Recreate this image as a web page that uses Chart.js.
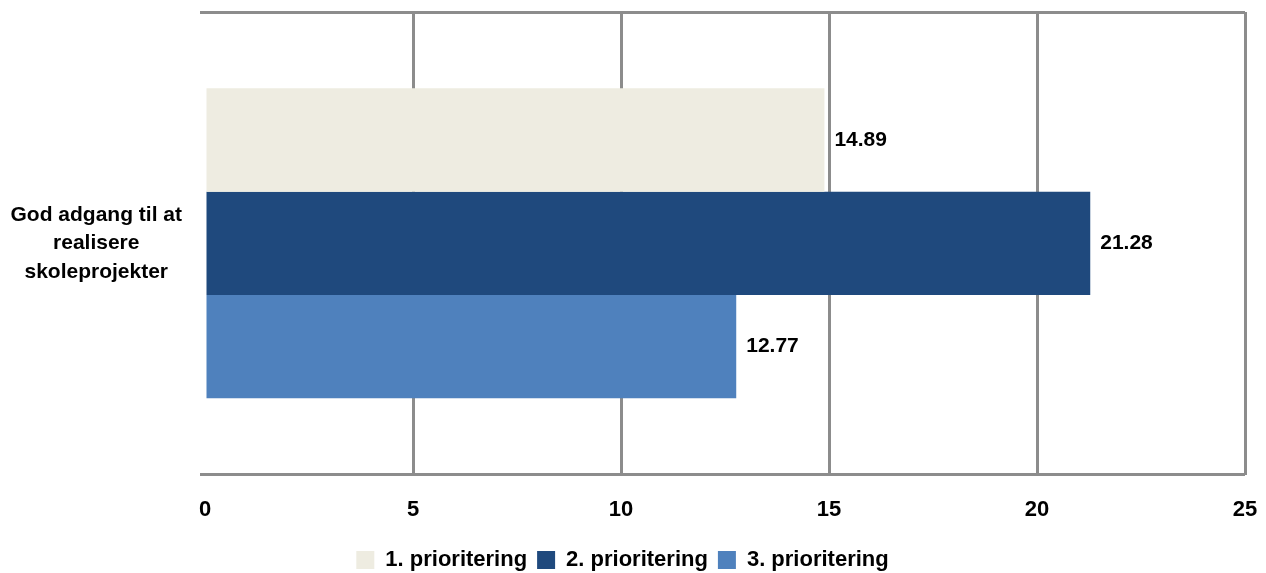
<!DOCTYPE html>
<html>
<head>
<meta charset="utf-8">
<script src="https://cdn.jsdelivr.net/npm/chart.js@4.4.0/dist/chart.umd.min.js"></script>
<style>
  html, body { margin: 0; padding: 0; background: #fff; }
  #wrap { width: 1266px; height: 573px; }
</style>
</head>
<body>
<div id="wrap"><canvas id="chart" width="1266" height="573"></canvas></div>
<script>
// Data
const categories = [['God adgang til at', 'realisere', 'skoleprojekter']];
const seriesNames = ['1. prioritering', '2. prioritering', '3. prioritering'];
const seriesValues = [[14.89], [21.28], [12.77]];
const seriesColors = ['#EEECE1', '#1F497D', '#4F81BD'];
const xTicks = [0, 5, 10, 15, 20, 25];

const gridGrey = '#8C8C8C';
const fontFamily = '"Liberation Sans", Arial, sans-serif';

// Draws the value to the right of each bar
const valueLabels = {
    id: 'valueLabels',
    afterDatasetsDraw(chart) {
        const ctx = chart.ctx;
        ctx.save();
        ctx.font = 'bold 21px ' + fontFamily;
        ctx.fillStyle = '#000';
        ctx.textBaseline = 'middle';
        ctx.textAlign = 'left';
        chart.data.datasets.forEach((ds, i) => {
            chart.getDatasetMeta(i).data.forEach((bar, j) => {
                ctx.fillText(ds.data[j].toFixed(2), bar.x + 10, bar.y);
            });
        });
        ctx.restore();
    }
};

new Chart(document.getElementById('chart'), {
    type: 'bar',
    data: {
        labels: categories,
        datasets: seriesNames.map((name, i) => ({
            label: name,
            data: seriesValues[i],
            backgroundColor: seriesColors[i],
            borderWidth: 0,
            categoryPercentage: 0.67,
            barPercentage: 1.0
        }))
    },
    options: {
        indexAxis: 'y',
        responsive: false,
        animation: false,
        layout: { padding: { top: 12, right: 21, left: 0, bottom: -8 } },
        plugins: {
            legend: {
                position: 'bottom',
                labels: {
                    boxWidth: 18,
                    boxHeight: 18,
                    padding: 10,
                    color: '#000',
                    font: { family: fontFamily, size: 22, weight: 'bold' }
                }
            },
            tooltip: { enabled: false }
        },
        scales: {
            x: {
                min: 0,
                max: 25,
                afterBuildTicks: (axis) => {
                    axis.ticks = xTicks.map((v) => ({ value: v }));
                },
                afterFit: (axis) => {
                    axis.paddingLeft = 0;
                    axis.paddingRight = 0;
                    axis.height -= 6;
                },
                border: { display: false },
                grid: {
                    color: (c) => (c.tick && c.tick.value === 0 ? 'rgba(0,0,0,0)' : gridGrey),
                    lineWidth: 3,
                    drawTicks: false
                },
                ticks: {
                    padding: 22,
                    color: '#000',
                    font: { family: fontFamily, size: 22, weight: 'bold' }
                }
            },
            y: {
                border: { display: false },
                afterFit: (axis) => {
                    axis.width = 205;
                    axis.paddingTop = 0;
                    axis.paddingBottom = 0;
                },
                grid: {
                    color: gridGrey,
                    lineWidth: 3,
                    drawTicks: true,
                    tickLength: 5
                },
                ticks: {
                    crossAlign: 'center',
                    padding: 18,
                    color: '#000',
                    font: { family: fontFamily, size: 21, weight: 'bold', lineHeight: 1.36 }
                }
            }
        }
    },
    plugins: [valueLabels]
});
</script>
</body>
</html>
